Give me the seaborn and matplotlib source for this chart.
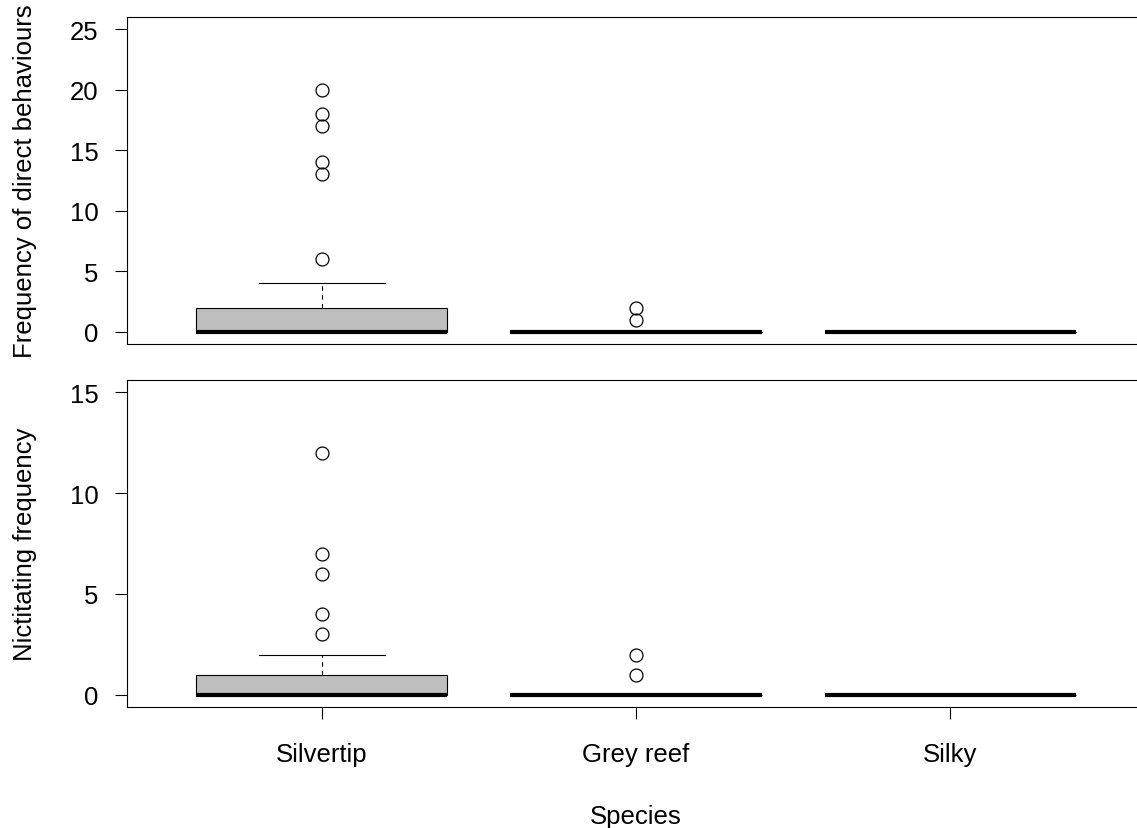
import numpy as np
import pandas as pd
import matplotlib
matplotlib.use("Agg")
import matplotlib.pyplot as plt
import seaborn as sns

plt.rcParams["font.family"] = ["Liberation Sans", "DejaVu Sans"]

species = ["Silvertip", "Grey reef", "Silky"]

# Frequency tables (observed value -> number of observations) per species
direct_values = {
    "Silvertip": [0, 1, 2, 3, 4, 6, 13, 14, 17, 18, 20],
    "Grey reef": [0, 1, 2],
    "Silky": [0],
}
direct_counts = {
    "Silvertip": [20, 3, 8, 1, 1, 1, 1, 1, 1, 1, 1],
    "Grey reef": [30, 1, 1],
    "Silky": [20],
}
nict_values = {
    "Silvertip": [0, 1, 2, 3, 4, 6, 7, 12],
    "Grey reef": [0, 1, 2],
    "Silky": [0],
}
nict_counts = {
    "Silvertip": [20, 8, 2, 1, 1, 1, 1, 1],
    "Grey reef": [30, 1, 1],
    "Silky": [20],
}

direct_ticks = [0, 5, 10, 15, 20, 25]
nict_ticks = [0, 5, 10, 15]

FS = 18.5


def long_table(values, counts):
    rows = []
    for sp in species:
        for v, c in zip(values[sp], counts[sp]):
            rows += [(sp, v)] * c
    return pd.DataFrame(rows, columns=["Species", "value"])


df_direct = long_table(direct_values, direct_counts)
df_nict = long_table(nict_values, nict_counts)

W, H = 1137, 829
fig = plt.figure(figsize=(W / 100, H / 100), dpi=100)


def px_axes(left, top, right, bottom):
    return fig.add_axes([left / W, 1 - bottom / H, (right - left) / W, (bottom - top) / H])


# plotting region runs slightly past the right edge of the canvas
ax1 = px_axes(127, 18, 1145, 345)
ax2 = px_axes(127, 381, 1145, 708)

box_kws = dict(
    x="Species", y="value", order=species, color="#BEBEBE", saturation=1,
    width=0.8, linecolor="black", linewidth=0.8, whis=1.5,
    boxprops=dict(linewidth=0.8, edgecolor="black"),
    medianprops=dict(linewidth=3.0, color="black", solid_capstyle="butt"),
    whiskerprops=dict(linewidth=0.8, color="black", linestyle=(0, (4, 4))),
    capprops=dict(linewidth=0.8, color="black"),
    flierprops=dict(marker="o", markerfacecolor="none", markeredgecolor="black",
                    markersize=9.3, markeredgewidth=0.9),
)

sns.boxplot(data=df_direct, ax=ax1, **box_kws)
sns.boxplot(data=df_nict, ax=ax2, **box_kws)

for ax, ticks, label in [(ax1, direct_ticks, "Frequency of direct behaviours"),
                         (ax2, nict_ticks, "Nictitating frequency")]:
    ax.set_xlim(-0.62, 2.62)
    span = ticks[-1] - ticks[0]
    ax.set_ylim(ticks[0] - 0.04 * span, ticks[-1] + 0.04 * span)
    ax.set_yticks(ticks)
    ax.set_yticklabels([str(t) for t in ticks])
    ax.set_facecolor("white")
    ax.grid(False)
    for s in ax.spines.values():
        s.set_visible(True)
        s.set_color("black")
        s.set_linewidth(0.8)
    ax.tick_params(axis="y", direction="out", length=8.6, width=0.8, pad=12,
                   labelsize=FS, colors="black")
    ax.set_ylabel(label, fontsize=FS)
    ax.yaxis.set_label_coords(-0.088, 0.5)

ax1.tick_params(axis="x", bottom=False, labelbottom=False)
ax1.set_xlabel("")
ax2.set_xticks(range(len(species)))
ax2.set_xticklabels(species)
ax2.tick_params(axis="x", direction="out", length=8.6, width=0.8, pad=16.5,
                labelsize=FS, colors="black")
ax2.set_xlabel("Species", fontsize=FS, labelpad=27.5)

fig.savefig("out.png", dpi=100, facecolor="white")
